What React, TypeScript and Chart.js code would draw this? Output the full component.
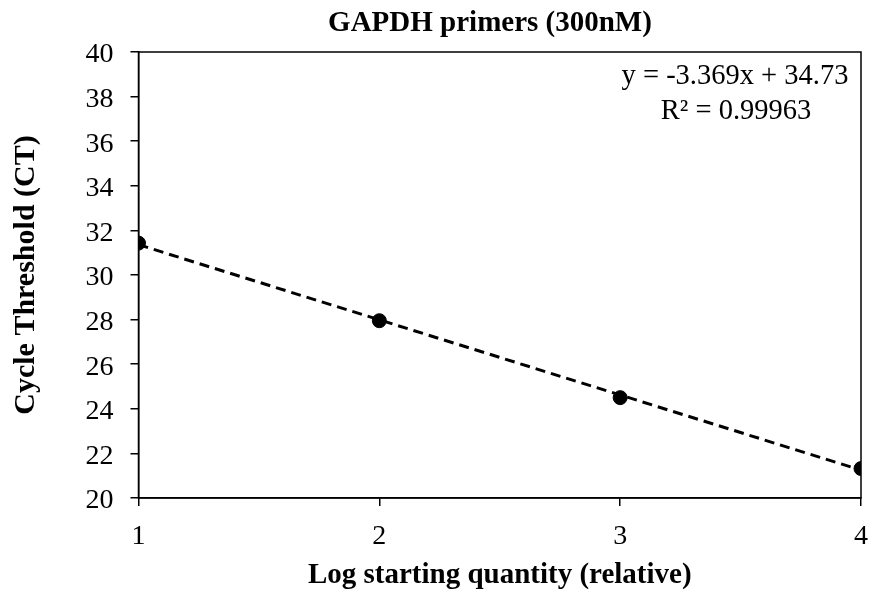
import React, { useEffect, useRef } from "react";
import { Chart, registerables } from "chart.js";

Chart.register(...registerables);

const chartTitle = "GAPDH primers (300nM)";
const xAxisTitle = "Log starting quantity (relative)";
const yAxisTitle = "Cycle Threshold (CT)";
const equationLines = ["y = -3.369x + 34.73", "R\u00b2 = 0.99963"];

const logQuantity = [1, 2, 3, 4];
const cycleThreshold = [31.43, 27.95, 24.5, 21.32];

// trendline end points
const trendX = [1, 4];
const trendY = [31.36, 21.25];

const SERIF = "'Liberation Serif', 'Times New Roman', serif";

const textPlugin = {
  id: "textOverlay",
  afterDraw(chart: any) {
    const { ctx, chartArea } = chart;
    ctx.save();
    ctx.strokeStyle = "#000";
    ctx.lineWidth = 1.5;
    ctx.strokeRect(chartArea.left, chartArea.top, chartArea.right - chartArea.left, chartArea.bottom - chartArea.top);
    ctx.fillStyle = "#000";
    ctx.textAlign = "center";
    ctx.textBaseline = "alphabetic";
    ctx.font = `bold 29px ${SERIF}`;
    ctx.fillText(chartTitle, 490, 31);
    ctx.font = `28.5px ${SERIF}`;
    ctx.fillText(equationLines[0], 735, 84);
    ctx.fillText(equationLines[1], 736, 119);
    ctx.restore();
  },
};

export default function App() {
  const ref = useRef<HTMLCanvasElement | null>(null);
  useEffect(() => {
    document.body.style.margin = "0";
    const canvas = ref.current!;
    const chart = new Chart(canvas, {
      type: "scatter",
      data: {
        datasets: [
          {
            type: "line",
            data: trendX.map((x, i) => ({ x, y: trendY[i] })),
            borderColor: "#000",
            borderWidth: 3,
            borderDash: [10, 6],
            pointRadius: 0,
            fill: false,
            order: 2,
          } as any,
          {
            data: logQuantity.map((x, i) => ({ x, y: cycleThreshold[i] })),
            backgroundColor: "#000",
            borderColor: "#000",
            pointRadius: 7,
            order: 1,
          },
        ],
      },
      options: {
        responsive: false,
        animation: false,
        layout: { padding: { left: 8, top: 52, right: 0, bottom: 0 } },
        plugins: {
          legend: { display: false },
          tooltip: { enabled: false },
          title: { display: false },
        },
        scales: {
          x: {
            type: "linear",
            min: 1,
            max: 4,
            afterFit: (s: any) => {
              s.height = 98;
              s.paddingRight = 9;
            },
            ticks: {
              stepSize: 1,
              color: "#000",
              font: { family: SERIF, size: 28 },
              padding: 14,
            },
            grid: {
              drawOnChartArea: false,
              drawTicks: true,
              tickLength: 8,
              color: "#000",
              lineWidth: 1.5,
            },
            border: { display: true, color: "#000", width: 1.5 },
            title: {
              display: true,
              text: xAxisTitle,
              color: "#000",
              font: { family: SERIF, size: 29, weight: "bold" },
              padding: { top: 0, bottom: 3 },
            },
          },
          y: {
            min: 20,
            max: 40,
            afterFit: (s: any) => {
              s.width = 130.5;
            },
            ticks: {
              stepSize: 2,
              color: "#000",
              font: { family: SERIF, size: 28 },
              padding: 17,
              labelOffset: 3,
            },
            grid: {
              drawOnChartArea: false,
              drawTicks: true,
              tickLength: 8,
              color: "#000",
              lineWidth: 1.5,
            },
            border: { display: true, color: "#000", width: 1.5 },
            title: {
              display: true,
              text: yAxisTitle,
              color: "#000",
              font: { family: SERIF, size: 30, weight: "bold" },
              padding: { top: 0, bottom: 0 },
            },
          },
        },
      },
      plugins: [textPlugin],
    });
    return () => chart.destroy();
  }, []);
  return (
    <div style={{ position: "absolute", left: 0, top: 0, width: 870, height: 596, background: "#fff" }}>
      <canvas ref={ref} width={870} height={596} style={{ width: 870, height: 596, display: "block" }} />
    </div>
  );
}
